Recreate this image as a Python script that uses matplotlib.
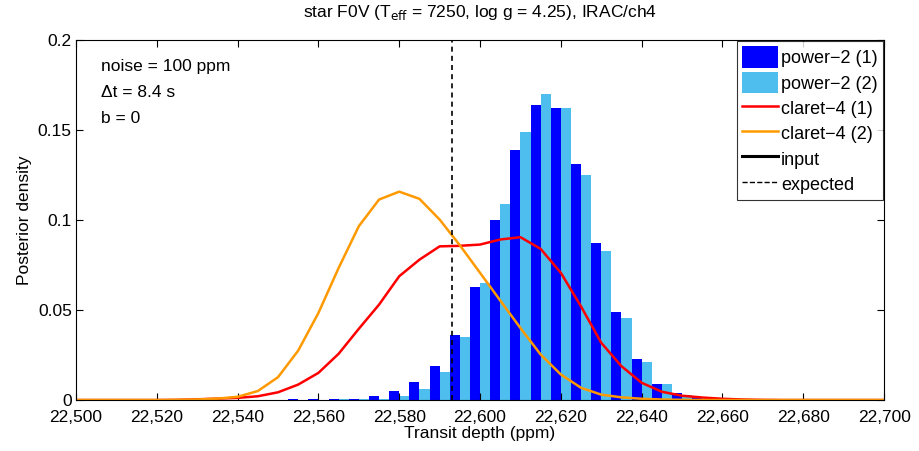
import numpy as np
import matplotlib
matplotlib.use("Agg")
import matplotlib.pyplot as plt
from matplotlib.ticker import FuncFormatter
from matplotlib.lines import Line2D

plt.rcParams['font.family'] = ['Liberation Sans', 'DejaVu Sans']

# histogram bins (ppm) and densities
bin_centers = [22550, 22555, 22560, 22565, 22570, 22575, 22580, 22585, 22590, 22595,
               22600, 22605, 22610, 22615, 22620, 22625, 22630, 22635, 22640, 22645,
               22650, 22655, 22660]
power2_1 = [0.0002, 0.0003, 0.0004, 0.0005, 0.0007, 0.002, 0.005, 0.010, 0.019, 0.036,
            0.063, 0.100, 0.139, 0.164, 0.1625, 0.131, 0.087, 0.049, 0.023, 0.009,
            0.004, 0.0015, 0.0005]
power2_2 = [0.0001, 0.0002, 0.0002, 0.0003, 0.0004, 0.0005, 0.002, 0.006, 0.0155, 0.035,
            0.065, 0.109, 0.149, 0.170, 0.1625, 0.125, 0.083, 0.0455, 0.021, 0.0088,
            0.003, 0.001, 0.0004]

# claret-4 posterior curves sampled every 5 ppm
line_x = np.arange(22500, 22701, 5)
claret4_1 = [0, 0, 0, 0, 0, 0.0001,
             0.0004, 0.0008, 0.0012, 0.0021, 0.0043, 0.0086, 0.0151, 0.0257, 0.0396, 0.053,
             0.0688, 0.078, 0.0854, 0.0857, 0.0864, 0.0892, 0.0905, 0.084, 0.0707, 0.052,
             0.0318, 0.0188, 0.0096, 0.0046, 0.0024, 0.0014, 0.0007, 0.0003, 0.0001,
             0, 0, 0, 0, 0, 0]
claret4_2 = [0, 0, 0, 0, 0, 0.0001,
             0.0003, 0.0008, 0.0018, 0.005, 0.0127, 0.0275, 0.0484, 0.0734, 0.0966, 0.1114,
             0.1158, 0.1118, 0.1003, 0.086, 0.0707, 0.0553, 0.040, 0.0253, 0.0142, 0.0068,
             0.003, 0.0015, 0.0007, 0.0003, 0.0001,
             0, 0, 0, 0, 0, 0, 0, 0, 0, 0]
expected_depth = 22593

xticks = [22500, 22520, 22540, 22560, 22580, 22600, 22620, 22640, 22660, 22680, 22700]
yticks = [0, 0.05, 0.1, 0.15, 0.2]
ytick_labels = ['0', '0.05', '0.1', '0.15', '0.2']
info_lines = ['noise = 100 ppm', '\u0394t = 8.4 s', 'b = 0']

fig = plt.figure(figsize=(9.19, 4.51), dpi=100)
ax = fig.add_axes([0.0827, 0.113, 0.8793, 0.798])

centers = np.array(bin_centers)
b1 = ax.bar(centers - 1.25, power2_1, width=2.5, color=(0, 0, 1))
b2 = ax.bar(centers + 1.25, power2_2, width=2.5, color='#4DBEEE')
l1, = ax.plot(line_x, claret4_1, color=(1, 0, 0), lw=1.8)
l2, = ax.plot(line_x, claret4_2, color=(1, 0.6, 0), lw=1.8)
ax.axvline(expected_depth, color='k', ls=(0, (3, 2.5)), lw=1.2)

handles = [b1, b2, l1, l2, Line2D([], [], color='k', lw=2.2),
           Line2D([], [], color='k', ls='--', lw=1)]
labels = ['power\u22122 (1)', 'power\u22122 (2)', 'claret\u22124 (1)', 'claret\u22124 (2)',
          'input', 'expected']
leg = ax.legend(handles, labels, loc='upper right', fontsize=13, frameon=True, fancybox=False,
                edgecolor='k', borderaxespad=0.05, handlelength=2.0, handleheight=1.45,
                handletextpad=0.15, labelspacing=0.22, borderpad=0.3)
leg.get_frame().set_linewidth(0.8)

# annotation block, one line each
for i, txt in enumerate(info_lines):
    ax.text(0.031, 0.928 - 0.0725 * i, txt, transform=ax.transAxes,
            fontsize=12.5, va='center', ha='left')

ax.set_xlim(22500, 22700)
ax.set_ylim(0, 0.2)
ax.set_xticks(xticks)
ax.xaxis.set_major_formatter(FuncFormatter(lambda v, p: f'{v:,.0f}'))
ax.set_yticks(yticks)
ax.set_yticklabels(ytick_labels)
ax.tick_params(direction='in', top=True, right=True, length=5, labelsize=12.5)
ax.tick_params(axis='x', pad=7)
ax.tick_params(axis='y', pad=3)
for s in ax.spines.values():
    s.set_linewidth(0.8)

ax.set_xlabel('Transit depth (ppm)', fontsize=12.5, labelpad=1)
ax.set_ylabel('Posterior density', fontsize=12.5, labelpad=4)
ax.set_title('star F0V (T$_{\\mathrm{eff}}$ = 7250, log g = 4.25), IRAC/ch4', fontsize=12.5, pad=17)

fig.savefig('out.png', dpi=100)
